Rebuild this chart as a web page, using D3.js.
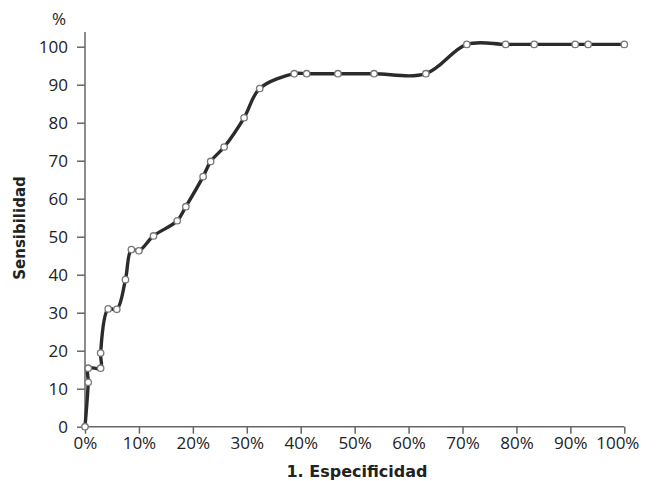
<!DOCTYPE html>
<html><head><meta charset="utf-8">
<script src="https://cdn.jsdelivr.net/npm/d3@7"></script>
<style>body{margin:0;background:#fff}svg{display:block}</style>
</head><body>
<svg id="c" width="657" height="481"></svg>
<script>
// data
const xValues = [0, 0.6, 0.6, 2.9, 2.9, 4.3, 5.9, 7.5, 8.6, 10.0, 12.7, 17.1, 18.7, 21.9, 23.3, 25.8, 29.5, 32.4, 38.8, 41.1, 46.9, 53.6, 63.2, 70.8, 78.0, 83.3, 90.9, 93.3, 100];
const yValues = [0, 11.7, 15.4, 15.4, 19.4, 31.0, 30.9, 38.7, 46.6, 46.3, 50.2, 54.2, 57.9, 65.8, 69.8, 73.6, 81.3, 89.0, 92.9, 92.9, 92.9, 92.9, 92.9, 100.6, 100.6, 100.6, 100.6, 100.6, 100.6];
const xTicks = [0, 10, 20, 30, 40, 50, 60, 70, 80, 90, 100];
const xTickLabels = ["0%", "10%", "20%", "30%", "40%", "50%", "60%", "70%", "80%", "90%", "100%"];
const yTicks = [0, 10, 20, 30, 40, 50, 60, 70, 80, 90, 100];
const yTickLabels = ["0", "10", "20", "30", "40", "50", "60", "70", "80", "90", "100"];
const xTitle = "1. Especificidad";
const yTitle = "Sensibilidad";
const yUnit = "%";

const svg = d3.select("#c");
const x = d3.scaleLinear().domain([0, 100]).range([85, 624.3]);
const y = d3.scaleLinear().domain([0, 100]).range([426.7, 46.7]);
const font = "'Open Sans', sans-serif";
const titleFont = "'DejaVu Sans', sans-serif";
const axisColor = "#666";
const textColor = "#222";

// axes
const gx = svg.append("g").attr("transform", `translate(0,${y(0)})`)
  .call(d3.axisBottom(x).tickValues(xTicks).tickFormat((d, i) => xTickLabels[i]).tickSize(7).tickSizeOuter(0).tickPadding(3));
const gy = svg.append("g").attr("transform", `translate(${x(0)},0)`)
  .call(d3.axisLeft(y).tickValues(yTicks).tickFormat((d, i) => yTickLabels[i]).tickSize(8).tickSizeOuter(0).tickPadding(9));
[gx, gy].forEach(g => {
  g.select(".domain").remove();
  g.selectAll(".tick line").attr("stroke", axisColor).attr("stroke-width", 1.5);
  g.selectAll(".tick text").attr("fill", textColor).style("font-family", font).style("font-size", "17px");
});
gx.selectAll(".tick text").filter((d, i) => i === xTicks.length - 1).attr("dx", -7);

svg.append("line").attr("x1", x(0)).attr("x2", x(0)).attr("y1", 32).attr("y2", y(0))
  .attr("stroke", axisColor).attr("stroke-width", 1.5);
svg.append("line").attr("x1", x(0)).attr("x2", x(100)).attr("y1", y(0)).attr("y2", y(0))
  .attr("stroke", axisColor).attr("stroke-width", 1.5);

// unit label
svg.append("text").attr("x", 66).attr("y", 25).attr("text-anchor", "end")
  .attr("fill", textColor).style("font-family", font).style("font-size", "17px").text(yUnit);

// titles
svg.append("text").attr("transform", "translate(25,228) rotate(-90)").attr("text-anchor", "middle")
  .attr("fill", textColor).style("font-family", titleFont).style("font-size", "15px").style("font-weight", "bold").text(yTitle);
svg.append("text").attr("x", 357).attr("y", 476.5).attr("text-anchor", "middle")
  .attr("fill", textColor).style("font-family", titleFont).style("font-size", "16px").style("font-weight", "bold").text(xTitle);

// curve
const pts = xValues.map((v, i) => [v, yValues[i]]);
const line = d3.line().x(d => x(d[0])).y(d => y(d[1])).curve(d3.curveCatmullRom.alpha(0.5));
svg.append("path").datum(pts).attr("d", line).attr("fill", "none")
  .attr("stroke", "#2b2b2b").attr("stroke-width", 3.4).attr("stroke-linejoin", "round");

svg.append("g").selectAll("circle").data(pts).join("circle")
  .attr("cx", d => x(d[0])).attr("cy", d => y(d[1])).attr("r", 3.2)
  .attr("fill", "#fff").attr("stroke", "#777").attr("stroke-width", 1.3);
</script>
</body></html>
